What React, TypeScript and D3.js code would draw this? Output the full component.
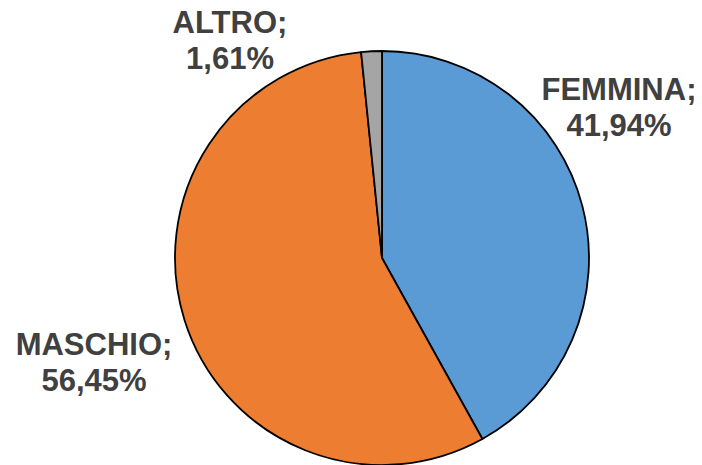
import React from "react";
import * as d3 from "d3";

const categories = ["FEMMINA", "MASCHIO", "ALTRO"];
const values = [41.94, 56.45, 1.61];
const colors = ["#5B9BD5", "#ED7D31", "#A5A5A5"];

const W = 702;
const H = 465;
const cx = 382;
const cy = 258;
const R = 207;

// label anchor positions (centre x, first baseline y)
const labelPos: [number, number][] = [
  [619, 100],
  [94, 355],
  [230, 33],
];

export default function App() {
  const pie = d3.pie<number>().sort(null).value((d) => d);
  const arcs = pie(values);
  const arc = d3.arc<d3.PieArcDatum<number>>().innerRadius(0).outerRadius(R);
  const fmt = (v: number) => v.toFixed(2).replace(".", ",") + "%";
  return (
    <svg width={W} height={H} style={{ position: "absolute", left: 0, top: 0 }}>
      <rect width={W} height={H} fill="#fff" />
      <g transform={`translate(${cx},${cy})`}>
        {arcs.map((a, i) => (
          <path key={i} d={arc(a) || ""} fill={colors[i]} stroke="#000" strokeWidth={1.8} strokeLinejoin="round" />
        ))}
      </g>
      {categories.map((c, i) => (
        <text
          key={c}
          x={labelPos[i][0]}
          y={labelPos[i][1]}
          textAnchor="middle"
          fontFamily="'Liberation Sans', Arial, sans-serif"
          fontWeight="bold"
          fontSize={31}
          fill="#404040"
        >
          <tspan x={labelPos[i][0]}>{c};</tspan>
          <tspan x={labelPos[i][0]} dy={36}>{fmt(values[i])}</tspan>
        </text>
      ))}
    </svg>
  );
}
